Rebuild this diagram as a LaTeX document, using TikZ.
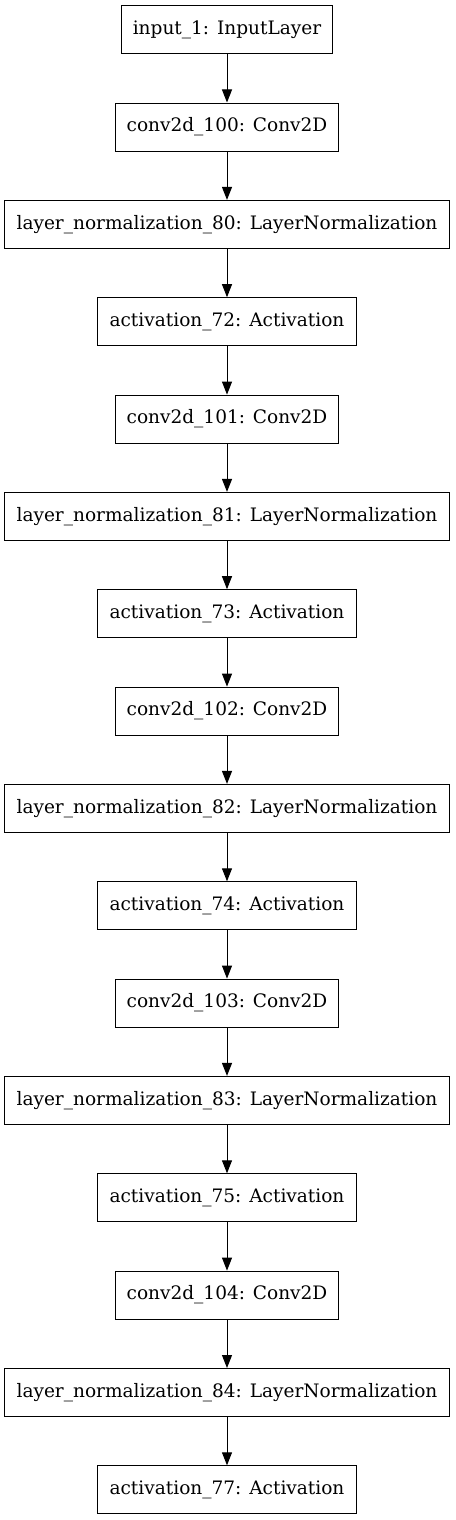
\documentclass[tikz,border=0pt]{standalone}
\usepackage{fontspec}
\setmainfont{DejaVu Serif}
\usetikzlibrary{arrows.meta}
\begin{document}
\begin{tikzpicture}[x=0.75pt,y=-0.75pt,
  layerbox/.style={draw, line width=0.75pt, minimum height=36pt, inner sep=0pt, font=\fontsize{13.9}{16}\selectfont},
  inpbox/.style={layerbox, minimum width=158.25pt},
  convbox/.style={layerbox, minimum width=167.25pt},
  lnbox/.style={layerbox, minimum width=333.2pt},
  actbox/.style={layerbox, minimum width=193.8pt},
  flow/.style={line width=0.75pt, -{Triangle[length=9.75pt,width=7.5pt]}}]
\fill[white] (0,0) rectangle (455,1520);
\useasboundingbox (0,0) rectangle (455,1520);
\node[inpbox]  (n0)  at (227,29.7)   {input\_1: InputLayer};
\node[convbox] (n1)  at (227,127.0)  {conv2d\_100: Conv2D};
\node[lnbox]   (n2)  at (227,224.4)  {layer\_normalization\_80: LayerNormalization};
\node[actbox]  (n3)  at (227,321.7)  {activation\_72: Activation};
\node[convbox] (n4)  at (227,419.1)  {conv2d\_101: Conv2D};
\node[lnbox]   (n5)  at (227,516.4)  {layer\_normalization\_81: LayerNormalization};
\node[actbox]  (n6)  at (227,613.7)  {activation\_73: Activation};
\node[convbox] (n7)  at (227,711.1)  {conv2d\_102: Conv2D};
\node[lnbox]   (n8)  at (227,808.4)  {layer\_normalization\_82: LayerNormalization};
\node[actbox]  (n9)  at (227,905.8)  {activation\_74: Activation};
\node[convbox] (n10) at (227,1003.1) {conv2d\_103: Conv2D};
\node[lnbox]   (n11) at (227,1100.4) {layer\_normalization\_83: LayerNormalization};
\node[actbox]  (n12) at (227,1197.8) {activation\_75: Activation};
\node[convbox] (n13) at (227,1295.1) {conv2d\_104: Conv2D};
\node[lnbox]   (n14) at (227,1392.5) {layer\_normalization\_84: LayerNormalization};
\node[actbox]  (n15) at (227,1489.8) {activation\_77: Activation};
\foreach \a/\b in {n0/n1,n1/n2,n2/n3,n3/n4,n4/n5,n5/n6,n6/n7,n7/n8,n8/n9,n9/n10,n10/n11,n11/n12,n12/n13,n13/n14,n14/n15}
  \draw[flow] (\a) -- (\b);
\end{tikzpicture}
\end{document}
